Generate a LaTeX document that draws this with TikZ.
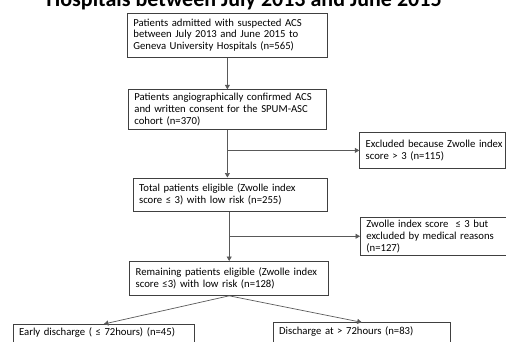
\documentclass[tikz,border=0pt]{standalone}
\usepackage{fontspec}
\setmainfont{Carlito}
\usetikzlibrary{arrows.meta}
\tikzset{
  box/.style={draw=black!75, line width=0.8pt, anchor=north west, inner xsep=6pt, inner ysep=2pt,
    align=left, font=\fontsize{10.7}{11.9}\selectfont},
  conn/.style={draw=black!65, line width=0.7pt},
  arr/.style={conn, -{Triangle[length=4.5pt,width=5pt]}},
  openbox/.style={box, inner ysep=3.5pt, text height=8pt, text depth=12pt},
}
\begin{document}
\begin{tikzpicture}[x=1pt,y=-1pt]
\useasboundingbox (0,0) rectangle (506,341);
\node[anchor=base, font=\fontsize{22}{26}\selectfont\bfseries] (title) at (244,6.5) {Hospitals between July 2013 and June 2015};
\node[box, minimum width=200pt, minimum height=44pt, text width=188pt] (b1) at (127,12.7)
  {Patients admitted with suspected ACS\\ between July 2013 and June 2015 to\\ Geneva University Hospitals (n=565)};
\node[box, minimum width=198pt, minimum height=40pt, text width=186pt] (b2) at (128,89.3)
  {Patients angiographically confirmed ACS\\ and written consent for the SPUM-ASC\\ cohort (n=370)};
\node[box, minimum width=146pt, minimum height=35.4pt, text width=134pt] (r1) at (359.3,132.3)
  {\mbox{Excluded because Zwolle index}\\ score > 3 (n=115)};
\node[box, minimum width=194.6pt, minimum height=33.5pt, text width=182.6pt] (b3) at (132.7,177.5)
  {Total patients eligible (Zwolle index\\ score ≤ 3) with low risk (n=255)};
\node[box, minimum width=145.5pt, minimum height=38.3pt, text width=133.5pt] (r2) at (360,216.7)
  {\mbox{Zwolle index score \ ≤ 3 but}\\ \mbox{excluded by medical reasons}\\ (n=127)};
\node[box, minimum width=199pt, minimum height=34pt, text width=187pt] (b4) at (129.3,261)
  {\mbox{Remaining patients eligible (Zwolle index}\\ score ≤3) with low risk (n=128)};
\node[openbox, minimum width=181.6pt, text width=169.6pt] (bl) at (12.7,324)
  {Early discharge ( ≤ 72hours) (n=45)};
\node[openbox, minimum width=177.3pt, text width=165.3pt] (br) at (272.7,322.3)
  {Discharge at > 72hours (n=83)};
% connectors
\draw[arr] (b1.south) -- (b2.north);
\draw[arr] (b2.south) -- (b2.south |- b3.north);
\draw[arr] (b2.south |- r1.west) -- (r1.west);
\draw[arr] (b4.north |- b3.south) -- (b4.north);
\draw[arr] (b4.north |- r2.west) -- (r2.west);
\draw[arr] (b4.south) -- (bl.north);
\draw[arr] (b4.south) -- (br.north);
\end{tikzpicture}
\end{document}
